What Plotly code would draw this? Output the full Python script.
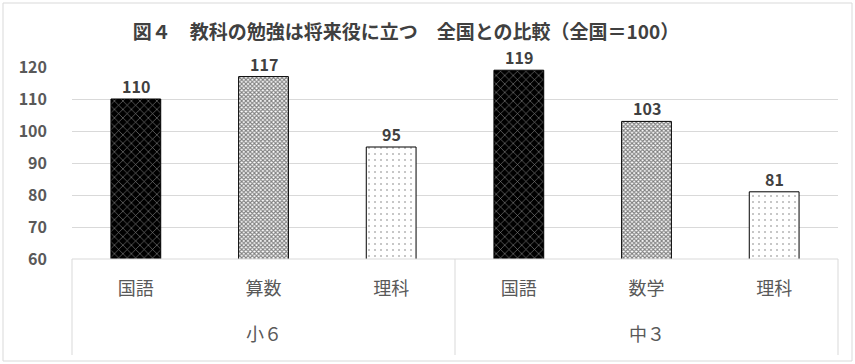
import plotly.graph_objects as go

groups = ["小６", "小６", "小６", "中３", "中３", "中３"]
subjects = ["国語", "算数", "理科", "国語", "数学", "理科"]
values = [110, 117, 95, 119, 103, 81]
y_ticks = [60, 70, 80, 90, 100, 110, 120]
title_text = "図４　教科の勉強は将来役に立つ　全国との比較（全国＝100）"

FONT = "Noto Sans CJK JP"
pos = list(range(len(subjects)))

styles = [
    dict(idx=[0, 3], shape="x", bg="black", fg="white", size=6, solidity=0.2),
    dict(idx=[1, 4], shape="x", bg="white", fg="black", size=3, solidity=0.6),
    dict(idx=[2, 5], shape=".", bg="white", fg="black", size=6, solidity=0.06),
]

fig = go.Figure()
for s in styles:
    fig.add_trace(go.Bar(
        x=[pos[i] for i in s["idx"]], y=[values[i] for i in s["idx"]], width=0.39,
        marker=dict(
            color=s["bg"],
            line=dict(color="black", width=1),
            pattern=dict(shape=s["shape"], bgcolor=s["bg"], fgcolor=s["fg"],
                         size=s["size"], solidity=s["solidity"], fillmode="overlay"),
        ),
        hoverinfo="skip",
    ))

annotations = []
for p, v in zip(pos, values):
    annotations.append(dict(
        x=p, y=v, xref="x", yref="y", text=str(v), showarrow=False,
        xanchor="center", yanchor="bottom", yshift=0, borderpad=0,
        font=dict(family=FONT, size=16, color="#404040", weight="bold"),
    ))

group_names = []
for g in groups:
    if g not in group_names:
        group_names.append(g)
for g in group_names:
    idx = [i for i, gg in enumerate(groups) if gg == g]
    annotations.append(dict(
        x=sum(idx) / len(idx), xref="x", y=-74 / 192, yref="paper",
        text=g, showarrow=False, xanchor="center", yanchor="middle",
        font=dict(family=FONT, size=18, color="#595959"),
    ))

line_style = dict(color="#d9d9d9", width=1)
box = [
    dict(type="line", xref="paper", yref="paper", x0=0, x1=1, y0=0, y1=0, line=line_style),
    dict(type="line", xref="paper", yref="paper", x0=0, x1=0, y0=0, y1=-96 / 192, line=line_style),
    dict(type="line", xref="paper", yref="paper", x0=1, x1=1, y0=0, y1=-96 / 192, line=line_style),
    dict(type="line", xref="x", yref="paper", x0=2.5, x1=2.5, y0=0, y1=-96 / 192, line=line_style),
    dict(type="rect", xref="paper", yref="paper",
         x0=-69 / 766, x1=1 + 14 / 766, y0=-102 / 192, y1=1 + 64 / 192,
         line=dict(color="#d9d9d9", width=1)),
]

fig.update_layout(
    width=855, height=364,
    margin=dict(l=72, r=17, t=67, b=105, autoexpand=False),
    paper_bgcolor="white", plot_bgcolor="white",
    showlegend=False, barmode="overlay",
    font=dict(family=FONT, color="#595959"),
    title=dict(text=title_text, x=406 / 855, xanchor="center", y=1 - 32 / 364,
               yanchor="middle",
               font=dict(family=FONT, size=19, color="#404040", weight="bold")),
    shapes=box,
    annotations=annotations,
)
fig.update_yaxes(range=[60, 120], tickvals=y_ticks, showgrid=True, automargin=False,
                 gridcolor="#d9d9d9", gridwidth=1, zeroline=False, showline=False,
                 tickfont=dict(family=FONT, size=16, color="#595959", weight="bold"),
                 ticks="", ticklabelstandoff=24)
fig.update_xaxes(range=[-0.5, 5.5], tickvals=pos, ticktext=subjects, automargin=False,
                 showgrid=False, zeroline=False, showline=False, ticks="",
                 ticklabelstandoff=17,
                 tickfont=dict(family=FONT, size=18, color="#595959"))

fig.write_html("out.html", config={"displayModeBar": False},
               post_script="document.body.style.margin='0';")
